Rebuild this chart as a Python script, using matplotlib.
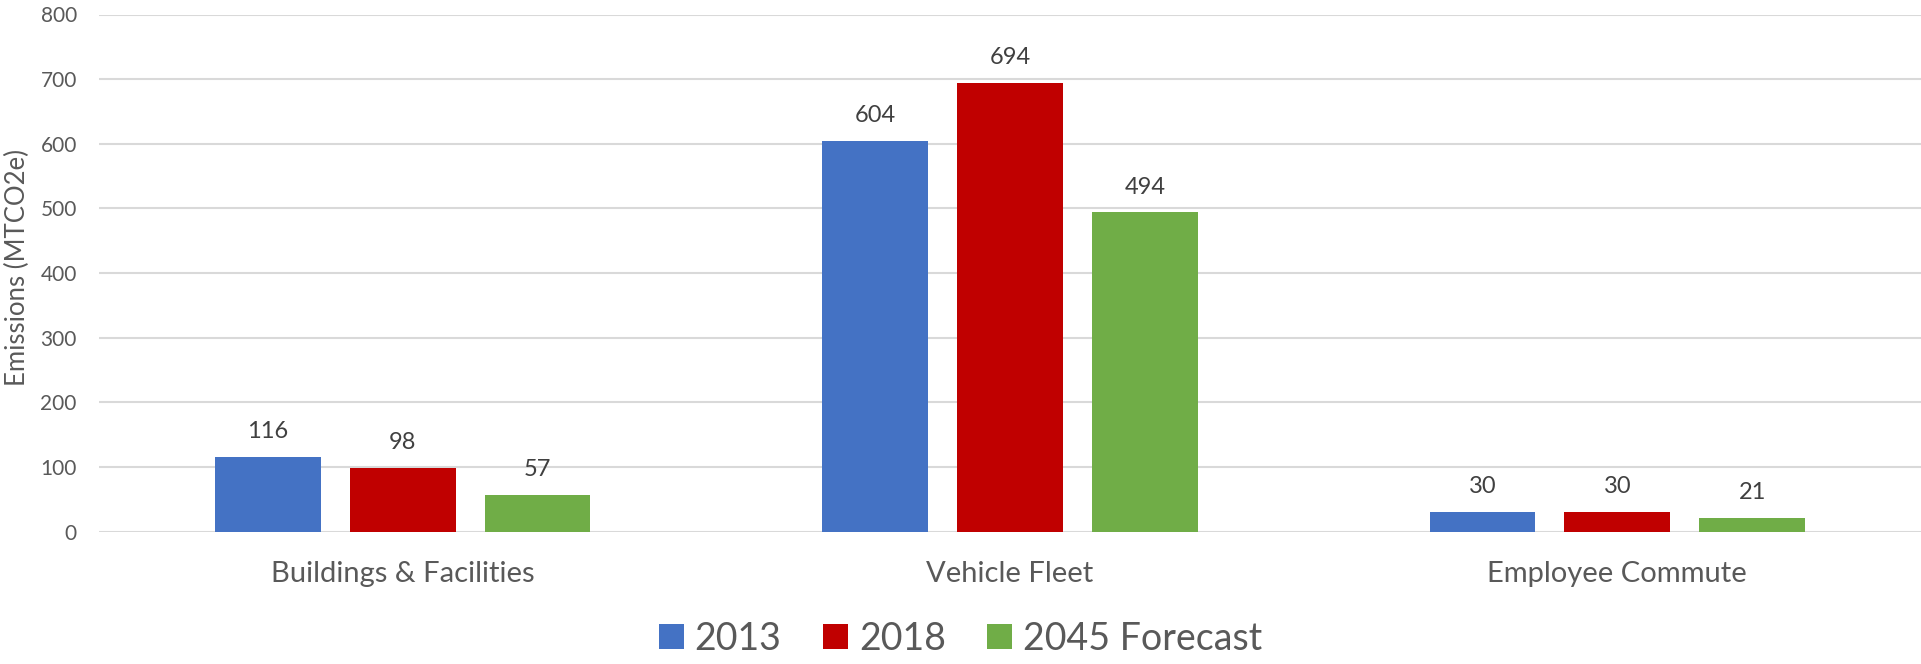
import numpy as np
import matplotlib
matplotlib.use("Agg")
import matplotlib.pyplot as plt

categories = ["Buildings & Facilities", "Vehicle Fleet", "Employee Commute"]
series_names = ["2013", "2018", "2045 Forecast"]
values_2013 = [116, 604, 30]
values_2018 = [98, 694, 30]
values_2045 = [57, 494, 21]
colors = ["#4472C4", "#C00000", "#70AD47"]
y_ticks = [0, 100, 200, 300, 400, 500, 600, 700, 800]

plt.rcParams["font.family"] = ["Lato", "DejaVu Sans"]

fig = plt.figure(figsize=(19.21, 6.64), dpi=100)
ax = fig.add_axes([99 / 1921, 1 - 531.5 / 664, 1 - 99 / 1921, (531.5 - 14.5) / 664])

x = np.arange(len(categories))
bar_w = 0.174
step = 0.222
all_values = [values_2013, values_2018, values_2045]
for i, (name, vals) in enumerate(zip(series_names, all_values)):
    pos = x + (i - 1) * step
    bars = ax.bar(pos, vals, width=bar_w, color=colors[i], label=name, zorder=3)
    for b, v in zip(bars, vals):
        ax.annotate(str(v), (b.get_x() + b.get_width() / 2, v),
                    xytext=(0, 13.5), textcoords="offset points",
                    ha="center", va="baseline", fontsize=17, color="#404040")

ax.set_xlim(-0.5, 2.5)
ax.set_ylim(0, 800)
ax.set_yticks(y_ticks)
ax.set_xticks(x)
ax.set_xticklabels(categories)
ax.tick_params(axis="y", length=0, pad=16, labelsize=15, labelcolor="#595959")
ax.tick_params(axis="x", length=0, pad=21, labelsize=21, labelcolor="#595959")
ax.grid(axis="y", color="#D9D9D9", linewidth=1.5, zorder=0)
for s in ax.spines.values():
    s.set_visible(False)

fig.text(17 / 1921, 1 - 267 / 664, "Emissions (MTCO2e)", rotation=90,
         ha="center", va="center", fontsize=18.5, color="#595959")

fig.legend(loc="center", bbox_to_anchor=(0.5, 1 - 639 / 664), ncol=3,
           frameon=False, fontsize=27, labelcolor="#595959",
           handlelength=0.66, handleheight=0.66, handletextpad=0.3,
           columnspacing=1.1, borderaxespad=0, borderpad=0)

fig.savefig("out.png", dpi=100)
